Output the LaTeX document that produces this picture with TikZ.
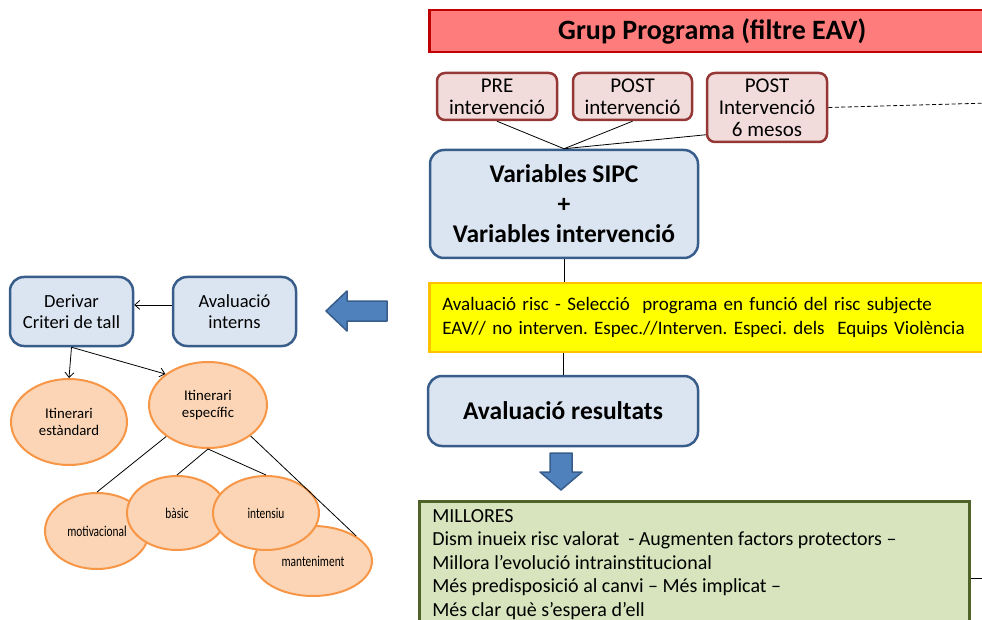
\documentclass[tikz,border=0pt]{standalone}
\usepackage{fontspec}
\setmainfont{Carlito}
\newfontfamily\squeezed[FakeStretch=0.76]{Carlito}
\usepackage{tikz}
\usetikzlibrary{arrows.meta,shapes.geometric}
\usepackage{xcolor}
\definecolor{titlered}{RGB}{255,124,124}
\definecolor{titleborder}{RGB}{192,0,0}
\definecolor{pinkfill}{RGB}{242,220,219}
\definecolor{pinkborder}{RGB}{149,55,53}
\definecolor{bluefill}{RGB}{219,229,241}
\definecolor{blueborder}{RGB}{56,93,138}
\definecolor{arrowblue}{RGB}{79,129,189}
\definecolor{riscyellow}{RGB}{255,255,0}
\definecolor{riscborder}{RGB}{255,192,0}
\definecolor{greenfill}{RGB}{215,228,189}
\definecolor{greenborder}{RGB}{79,98,40}
\definecolor{peachfill}{RGB}{251,213,181}
\definecolor{peachborder}{RGB}{247,150,70}
\frenchspacing

\begin{document}
\begin{tikzpicture}[x=1pt,y=-1pt,
    pinkbox/.style={draw=pinkborder, fill=pinkfill, line width=2.5pt, rounded corners=8pt,
        align=center, inner sep=0pt, font=\fontsize{21}{22}\selectfont},
    bluebox/.style={draw=blueborder, fill=bluefill, line width=2.5pt, rounded corners=14pt,
        align=center, inner sep=0pt},
    itin/.style={ellipse, draw=peachborder, fill=peachfill, line width=2pt, inner sep=0pt,
        align=center},
    subitin/.style={itin, font=\squeezed\fontsize{15}{17}\selectfont},
    link/.style={line width=0.8pt},
    tip/.style={-{Straight Barb[length=5pt,width=9pt]}},
    blockarrow/.style={draw=blueborder, fill=arrowblue, line width=1.5pt, line join=round}]
    \useasboundingbox (0,0) rectangle (982,620);
    \clip (0,0) rectangle (982,620);

    % Title
    \node[draw=titleborder, fill=titlered, line width=2.5pt, anchor=west,
        minimum width=566, minimum height=42, font=\fontsize{28}{30}\selectfont\bfseries]
        (title) at (428,31) {Grup Programa (filtre EAV)};

    % Moments of measurement
    \node[pinkbox, minimum width=120, minimum height=47] (pre) at (497,96.5) {PRE\\intervenció};
    \node[pinkbox, minimum width=119, minimum height=47] (post) at (632.5,96.5) {POST\\intervenció};
    \node[pinkbox, minimum width=120, minimum height=69] (post6) at (767,107.5) {POST\\Intervenció\\6 mesos};
    \coordinate (dashend) at (990,103);
    \draw[link, dashed, dash pattern=on 4pt off 2.5pt] (post6.east) -- (dashend);

    % Main column
    \node[bluebox, minimum width=268, minimum height=108, font=\fontsize{25.5}{30}\selectfont\bfseries]
        (vars) at (564,204) {Variables SIPC\\+\\Variables intervenció};
    \draw[link] (pre.south) -- (vars.north);
    \draw[link] (post.south) -- (vars.north);
    \draw[link] (post6.204) -- (vars.north);

    \node[draw=riscborder, fill=riscyellow, line width=2.5pt, anchor=west, minimum width=566,
        minimum height=69, text width=540, align=left, inner xsep=12pt,
        font=\fontsize{19}{24}\selectfont]
        (risc) at (428,317.5) {Avaluació risc - Selecció~ programa en funció del risc subjecte\\
        EAV// no interven. Espec.//Interven. Especi. dels~ Equips Violència};
    \draw[link] (vars.south) -- (vars.south |- risc.north);

    \node[bluebox, minimum width=270, minimum height=70, font=\fontsize{25.5}{30}\selectfont\bfseries]
        (res) at (563,411) {Avaluació resultats};
    \draw[link] (res.north |- risc.south) -- (res.north);

    % Down arrow
    \draw[blockarrow] (550,453) -- (572,453) -- (572,472) -- (582,472) -- (561,490)
        -- (540,472) -- (550,472) -- cycle;

    \node[draw=greenborder, fill=greenfill, line width=2.5pt, anchor=north west,
        inner xsep=13pt, inner ysep=8pt, font=\fontsize{20}{23.5}\selectfont]
        (millores) at (418,500) {\parbox[t][140pt][t]{524pt}{MILLORES\\
        Dism inueix risc valorat~ - Augmenten factors protectors –\\
        Millora l’evolució intrainstitucional\\
        Més predisposició al canvi – Més implicat –\\
        Més clar què s’espera d’ell}};
    \coordinate (greenend) at (990,578);
    \draw[link] (millores.east |- greenend) -- (greenend);

    % Left arrow
    \draw[blockarrow] (326,311) -- (347,291) -- (347,301) -- (387,301) -- (387,321)
        -- (347,321) -- (347,331) -- cycle;

    % Internal evaluation and cut-off
    \node[bluebox, minimum width=123, minimum height=69, font=\fontsize{18.5}{21.5}\selectfont]
        (interns) at (234.5,311.5) {Avaluació\\interns};
    \node[bluebox, minimum width=123, minimum height=69, font=\fontsize{18.5}{21.5}\selectfont]
        (derivar) at (71.5,311.5) {Derivar\\Criteri de tall};
    \draw[link, tip] (interns.174) -- (derivar.6);

    % Itineraries
    \node[itin, minimum width=116, minimum height=86, font=\fontsize{14.8}{17}\selectfont]
        (estandard) at (69,422) {Itinerari\\estàndard};
    \node[itin, minimum width=118, minimum height=86, font=\fontsize{14.8}{17}\selectfont]
        (especific) at (208,405) {Itinerari\\específic};
    \draw[link, tip] (derivar.south) -- (estandard.north);
    \draw[link, tip] (derivar.south) -- (especific.144);

    \node[subitin, minimum width=104, minimum height=76] (motiv) at (97,531) {motivacional};
    \node[subitin, minimum width=100, minimum height=74] (basic) at (177,513) {bàsic};
    \node[subitin, minimum width=118, minimum height=70] (mant) at (313,561) {manteniment};
    \node[subitin, minimum width=106, minimum height=74] (intensiu) at (266,513) {intensiu};
    \draw[link] (especific.-143) -- (motiv.north);
    \draw[link] (especific.south) -- (basic.north);
    \draw[link] (especific.south) -- (intensiu.north);
    \draw[link] (especific.-36) -- (mant.30);
\end{tikzpicture}
\end{document}
